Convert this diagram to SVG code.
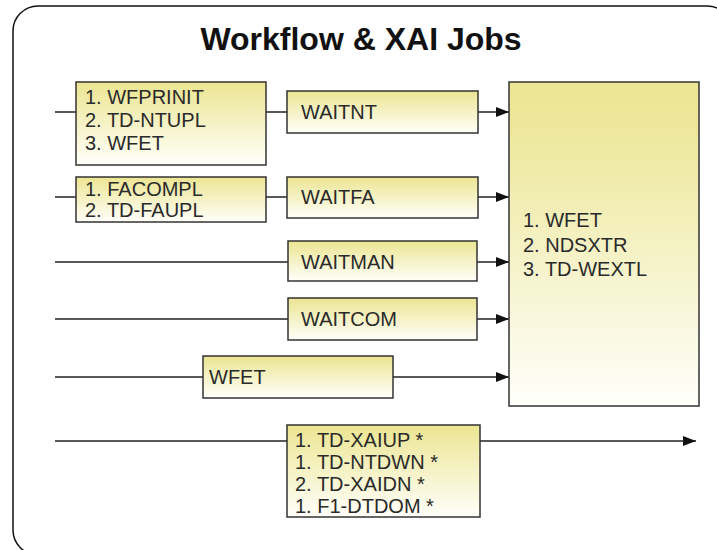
<svg xmlns="http://www.w3.org/2000/svg" width="717" height="550" viewBox="0 0 717 550">
<style>
.frame{fill:#fff;stroke:#111;stroke-width:1.5}
.box{stroke:#333;stroke-width:1.5;fill:url(#g)}
.big{stroke:#333;stroke-width:1.5;fill:url(#gb)}
.t{font-family:"Liberation Sans",Arial,sans-serif;font-size:20px;fill:#2a2a2a}
.title{font-family:"Liberation Sans",Arial,sans-serif;font-size:32px;font-weight:bold;fill:#111}
.c{stroke:#222;stroke-width:1.5;fill:none}
</style>
<defs>
<linearGradient id="g" x1="0" y1="0" x2="0" y2="1">
<stop offset="0" stop-color="#ECE592"/>
<stop offset="1" stop-color="#FFFFFA"/>
</linearGradient>
<linearGradient id="gb" x1="0" y1="0" x2="0" y2="1">
<stop offset="0" stop-color="#ECE592"/>
<stop offset="0.25" stop-color="#EFEAA6"/>
<stop offset="1" stop-color="#FFFFFC"/>
</linearGradient>
<marker id="ah" markerWidth="13" markerHeight="10" refX="13" refY="5" orient="auto" markerUnits="userSpaceOnUse">
<path d="M0,0 L13,5 L0,10 Z" fill="#111"/>
</marker>
</defs>
<rect class="frame" x="13" y="6" width="719" height="549" rx="25" ry="25"/>
<text class="title" x="361" y="50" text-anchor="middle">Workflow &amp; XAI Jobs</text>
<g id="connectors">
<line class="c" x1="55" y1="112" x2="76" y2="112"/>
<line class="c" x1="266" y1="112" x2="287" y2="112"/>
<line class="c" x1="478" y1="112" x2="509" y2="112" marker-end="url(#ah)"/>
<line class="c" x1="55" y1="197" x2="76" y2="197"/>
<line class="c" x1="266" y1="197" x2="287" y2="197"/>
<line class="c" x1="478" y1="197" x2="509" y2="197" marker-end="url(#ah)"/>
<line class="c" x1="55" y1="262" x2="288" y2="262"/>
<line class="c" x1="477" y1="262" x2="509" y2="262" marker-end="url(#ah)"/>
<line class="c" x1="55" y1="319" x2="288" y2="319"/>
<line class="c" x1="477" y1="319" x2="509" y2="319" marker-end="url(#ah)"/>
<line class="c" x1="55" y1="377" x2="203" y2="377"/>
<line class="c" x1="393" y1="377" x2="509" y2="377" marker-end="url(#ah)"/>
<line class="c" x1="55" y1="441" x2="287" y2="441"/>
<line class="c" x1="480" y1="441" x2="696" y2="441" marker-end="url(#ah)"/>
</g>
<g id="n1">
<rect class="box" x="76" y="82" width="190" height="83"/>
<text class="t" x="85" y="104">1. WFPRINIT</text>
<text class="t" x="85" y="127">2. TD-NTUPL</text>
<text class="t" x="85" y="150">3. WFET</text>
</g>
<g id="n2">
<rect class="box" x="76" y="177" width="190" height="45"/>
<text class="t" x="85" y="196">1. FACOMPL</text>
<text class="t" x="85" y="217">2. TD-FAUPL</text>
</g>
<g id="waitnt">
<rect class="box" x="287" y="91" width="191" height="42"/>
<text class="t" x="301" y="119">WAITNT</text>
</g>
<g id="waitfa">
<rect class="box" x="287" y="177" width="191" height="41"/>
<text class="t" x="301" y="204">WAITFA</text>
</g>
<g id="waitman">
<rect class="box" x="288" y="241" width="189" height="40"/>
<text class="t" x="301" y="269">WAITMAN</text>
</g>
<g id="waitcom">
<rect class="box" x="288" y="298" width="189" height="42"/>
<text class="t" x="301" y="326">WAITCOM</text>
</g>
<g id="wfet">
<rect class="box" x="203" y="356" width="190" height="42"/>
<text class="t" x="209" y="384">WFET</text>
</g>
<g id="big">
<rect class="big" x="509" y="82" width="190" height="324"/>
<text class="t" x="523" y="227">1. WFET</text>
<text class="t" x="523" y="252">2. NDSXTR</text>
<text class="t" x="523" y="276">3. TD-WEXTL</text>
</g>
<g id="xai">
<rect class="box" x="287" y="425" width="193" height="92"/>
<text class="t" x="295" y="447">1. TD-XAIUP *</text>
<text class="t" x="295" y="469">1. TD-NTDWN *</text>
<text class="t" x="295" y="491">2. TD-XAIDN *</text>
<text class="t" x="295" y="513">1. F1-DTDOM *</text>
</g>
</svg>
